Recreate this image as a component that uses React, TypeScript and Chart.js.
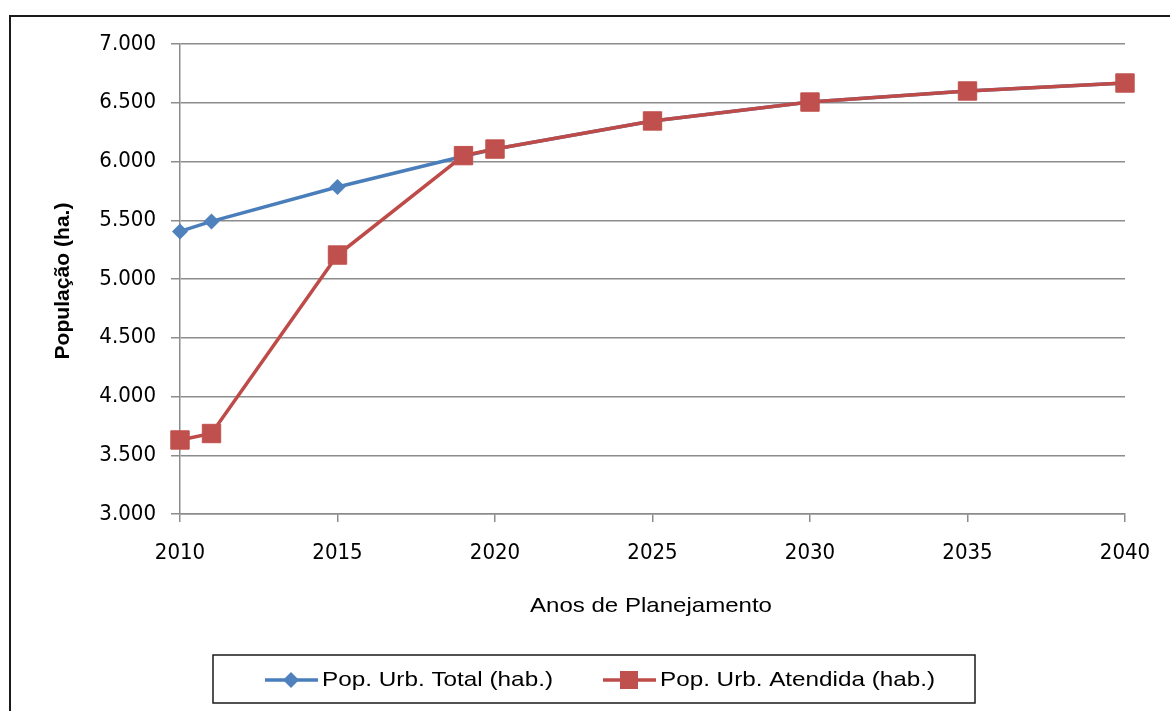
import React, { useEffect, useRef } from "react";
import { Chart, registerables } from "chart.js";

Chart.register(...registerables);

const years = [2010, 2011, 2015, 2019, 2020, 2025, 2030, 2035, 2040];
const popTotal = [5405, 5490, 5783, 6045, 6106, 6345, 6506, 6600, 6668];
const popAtendida = [3630, 3685, 5204, 6050, 6106, 6345, 6506, 6600, 6668];
const seriesLabels = ["Pop. Urb. Total (hab.)", "Pop. Urb. Atendida (hab.)"];
const yTitle = "População (ha.)";
const xTitle = "Anos de Planejamento";

const BLUE_LINE = "#4A7EBB";
const BLUE_FILL = "#4F81BD";
const RED_LINE = "#BE4B48";
const RED_FILL = "#C0504D";
const TEXT_FAMILY = '"Liberation Sans", "DejaVu Sans", sans-serif';

// draw text at a given font size, horizontally condensed to fill target width
function fitText(
  ctx: CanvasRenderingContext2D,
  text: string,
  weight: string,
  size: number,
  target: number,
  x: number,
  y: number,
  align: "left" | "center"
) {
  ctx.save();
  ctx.font = `${weight} ${size}px ${TEXT_FAMILY}`;
  const w = ctx.measureText(text).width;
  const sx = target / w;
  ctx.translate(x, y);
  ctx.scale(sx, 1);
  ctx.textAlign = align;
  ctx.textBaseline = "middle";
  ctx.fillText(text, 0, 0);
  ctx.restore();
}

const decorPlugin = {
  id: "decor",
  beforeDraw(chart: any) {
    const ctx = chart.ctx as CanvasRenderingContext2D;
    ctx.save();
    ctx.fillStyle = "#ffffff";
    ctx.fillRect(0, 0, chart.width, chart.height);
    ctx.restore();
  },
  afterDraw(chart: any) {
    const ctx = chart.ctx as CanvasRenderingContext2D;
    ctx.save();
    // outer frame (top + left visible)
    ctx.strokeStyle = "#1a1a1a";
    ctx.lineWidth = 2;
    ctx.beginPath();
    ctx.moveTo(10, chart.height + 2);
    ctx.lineTo(10, 16);
    ctx.lineTo(chart.width + 2, 16);
    ctx.stroke();

    ctx.fillStyle = "#000";
    // y title
    ctx.save();
    ctx.translate(63, 281);
    ctx.rotate(-Math.PI / 2);
    fitText(ctx, yTitle, "bold", 21, 157, 0, 0, "center");
    ctx.restore();

    // x title
    fitText(ctx, xTitle, "normal", 21, 242, 651, 606, "center");

    // legend box
    ctx.strokeStyle = "#1a1a1a";
    ctx.lineWidth = 1.5;
    ctx.strokeRect(213, 655, 762, 48);

    const ly = 680;
    // entry 1
    ctx.strokeStyle = BLUE_LINE;
    ctx.lineWidth = 3.5;
    ctx.beginPath();
    ctx.moveTo(265, ly);
    ctx.lineTo(318, ly);
    ctx.stroke();
    ctx.fillStyle = BLUE_FILL;
    ctx.beginPath();
    ctx.moveTo(291, ly - 8);
    ctx.lineTo(299, ly);
    ctx.lineTo(291, ly + 8);
    ctx.lineTo(283, ly);
    ctx.closePath();
    ctx.fill();
    ctx.fillStyle = "#000";
    fitText(ctx, seriesLabels[0], "normal", 21, 231, 322, ly, "left");

    // entry 2
    ctx.strokeStyle = RED_LINE;
    ctx.lineWidth = 3.5;
    ctx.beginPath();
    ctx.moveTo(603, ly);
    ctx.lineTo(656, ly);
    ctx.stroke();
    ctx.fillStyle = RED_FILL;
    ctx.fillRect(620, ly - 9, 18, 18);
    ctx.fillStyle = "#000";
    fitText(ctx, seriesLabels[1], "normal", 21, 275, 660, ly, "left");
    ctx.restore();
  },
};

export default function App() {
  const ref = useRef<HTMLCanvasElement>(null);
  useEffect(() => {
    document.body.style.margin = "0";
    const canvas = ref.current!;
    const tickFont = { family: '"DejaVu Sans Condensed", "Noto Sans", sans-serif', size: 22 };
    const chart = new Chart(canvas, {
      type: "line",
      data: {
        datasets: [
          {
            label: seriesLabels[0],
            data: years.map((x, i) => ({ x, y: popTotal[i] })),
            borderColor: BLUE_LINE,
            backgroundColor: BLUE_FILL,
            borderWidth: 3.5,
            pointStyle: "rectRot",
            pointRadius: 8,
            pointBorderWidth: 0,
            pointBackgroundColor: BLUE_FILL,
            clip: false,
            order: 1,
          },
          {
            label: seriesLabels[1],
            data: years.map((x, i) => ({ x, y: popAtendida[i] })),
            borderColor: RED_LINE,
            backgroundColor: RED_FILL,
            borderWidth: 3.5,
            pointStyle: "rect",
            pointRadius: 13,
            pointBorderWidth: 1,
            pointBorderColor: RED_FILL,
            pointBackgroundColor: RED_FILL,
            clip: false,
            order: 0,
          },
        ],
      },
      options: {
        responsive: false,
        animation: false,
        devicePixelRatio: 1,
        layout: { padding: { left: 0, top: 44, right: 45, bottom: 0 } },
        plugins: { legend: { display: false }, tooltip: { enabled: false } },
        scales: {
          x: {
            type: "linear",
            min: 2010,
            max: 2040,
            afterFit: (s: any) => {
              s.height = 197;
            },
            ticks: {
              stepSize: 5,
              padding: 18,
              color: "#000",
              font: tickFont,
              callback: (v: any) => String(v),
            },
            grid: {
              drawOnChartArea: false,
              drawTicks: true,
              tickLength: 8,
              color: "#8c8c8c",
              lineWidth: 1.5,
            },
            border: { color: "#8c8c8c", width: 1.5 },
          },
          y: {
            type: "linear",
            min: 3000,
            max: 7000,
            afterFit: (s: any) => {
              s.width = 180;
            },
            ticks: {
              stepSize: 500,
              padding: 15,
              color: "#000",
              font: tickFont,
              callback: (v: any) => {
                const n = Number(v);
                const th = Math.floor(n / 1000);
                const rest = String(n % 1000).padStart(3, "0");
                return `${th}.${rest}`;
              },
            },
            grid: {
              color: "#8c8c8c",
              lineWidth: 1.5,
              tickLength: 9,
            },
            border: { color: "#8c8c8c", width: 1.5 },
          },
        },
      },
      plugins: [decorPlugin],
    });
    return () => chart.destroy();
  }, []);
  return (
    <div style={{ width: 1170, height: 711 }}>
      <canvas ref={ref} width={1170} height={711} />
    </div>
  );
}
